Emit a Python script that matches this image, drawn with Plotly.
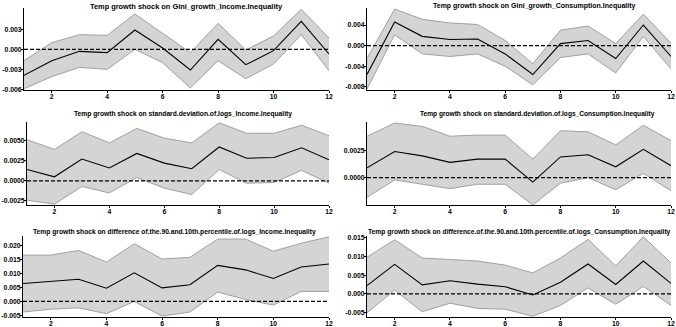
import plotly.graph_objects as go

horizon = list(range(1, 13))

titles = [
    "Temp growth shock on Gini_growth_Income.Inequality",
    "Temp growth shock on Gini_growth_Consumption.Inequality",
    "Temp growth shock on standard.deviation.of.logs_Income.Inequality",
    "Temp growth shock on standard.deviation.of.logs_Consumption.Inequality",
    "Temp growth shock on difference of.the.90.and.10th.percentile.of.logs_Income.Inequality",
    "Temp growth shock on difference.of.the.90.and.10th.percentile.of.logs_Consumption.Inequality",
]

gini_inc_mean = [-0.0039, -0.0017, -0.0003, -0.0005, 0.0029, 0.0002, -0.0031, 0.0015, -0.0023, -0.0002, 0.0042, -0.0007]
gini_inc_up = [-0.0017, 0.0010, 0.0022, 0.0021, 0.0053, 0.0024, -0.0005, 0.0039, -0.0001, 0.0020, 0.0060, 0.0017]
gini_inc_lo = [-0.0059, -0.0041, -0.0027, -0.0030, 0.0000, -0.0020, -0.0058, -0.0017, -0.0044, -0.0022, 0.0022, -0.0032]

gini_con_mean = [-0.0056, 0.0046, 0.0018, 0.0012, 0.0013, -0.0016, -0.0056, 0.0004, 0.0010, -0.0025, 0.0040, -0.0021]
gini_con_up = [-0.0025, 0.0071, 0.0051, 0.0044, 0.0041, 0.0010, -0.0035, 0.0030, 0.0038, 0.0004, 0.0061, 0.0005]
gini_con_lo = [-0.0084, 0.0021, -0.0016, -0.0021, -0.0016, -0.0040, -0.0076, -0.0023, -0.0016, -0.0053, 0.0018, -0.0045]

sd_inc_mean = [0.0014, 0.0005, 0.0027, 0.0016, 0.0034, 0.0022, 0.0015, 0.0042, 0.0028, 0.0029, 0.0041, 0.0026]
sd_inc_up = [0.0051, 0.0039, 0.0061, 0.0047, 0.0065, 0.0053, 0.0047, 0.0072, 0.0059, 0.0059, 0.0069, 0.0056]
sd_inc_lo = [-0.0024, -0.0029, -0.0007, -0.0015, 0.0004, -0.0009, -0.0017, 0.0014, -0.0003, -0.0002, 0.0013, -0.0003]

sd_con_mean = [0.0009, 0.0024, 0.0020, 0.0014, 0.0017, 0.0017, -0.0004, 0.0019, 0.0021, 0.0010, 0.0026, 0.0011]
sd_con_up = [0.0038, 0.0050, 0.0047, 0.0038, 0.0039, 0.0039, 0.0017, 0.0043, 0.0042, 0.0030, 0.0048, 0.0034]
sd_con_lo = [-0.0018, -0.0002, -0.0006, -0.0010, -0.0006, -0.0006, -0.0025, -0.0005, 0.0000, -0.0011, 0.0004, -0.0012]

p90_inc_mean = [0.0065, 0.0072, 0.0080, 0.0048, 0.0103, 0.0049, 0.0060, 0.0130, 0.0114, 0.0083, 0.0124, 0.0135]
p90_inc_up = [0.0167, 0.0167, 0.0184, 0.0142, 0.0208, 0.0153, 0.0159, 0.0225, 0.0225, 0.0181, 0.0210, 0.0233]
p90_inc_lo = [-0.0038, -0.0028, -0.0023, -0.0044, 0.0000, -0.0053, -0.0038, 0.0034, 0.0007, -0.0013, 0.0036, 0.0036]

p90_con_mean = [0.0022, 0.0079, 0.0024, 0.0035, 0.0026, 0.0019, -0.0003, 0.0031, 0.0080, 0.0025, 0.0088, 0.0028]
p90_con_up = [0.0098, 0.0145, 0.0096, 0.0092, 0.0088, 0.0077, 0.0056, 0.0096, 0.0146, 0.0075, 0.0153, 0.0083]
p90_con_lo = [-0.0051, 0.0010, -0.0048, -0.0025, -0.0039, -0.0041, -0.0060, -0.0031, 0.0016, -0.0028, 0.0020, -0.0031]

x_ticks = [2, 4, 6, 8, 10, 12]
y_ticks = [
    [-0.006, -0.003, 0.0, 0.003],
    [-0.008, -0.004, 0.0, 0.004],
    [-0.0025, 0.0, 0.0025, 0.0050],
    [0.0, 0.0025],
    [-0.005, 0.0, 0.005, 0.010, 0.015, 0.020],
    [-0.005, 0.0, 0.005, 0.010, 0.015],
]
y_tick_text = [
    ["-0.006", "-0.003", "0.000", "0.003"],
    ["-0.008", "-0.004", "0.000", "0.004"],
    ["-0.0025", "0.0000", "0.0025", "0.0050"],
    ["0.0000", "0.0025"],
    ["-0.005", "0.000", "0.005", "0.010", "0.015", "0.020"],
    ["-0.005", "0.000", "0.005", "0.010", "0.015"],
]
y_ranges = [
    [-0.0061, 0.0062],
    [-0.0086, 0.0073],
    [-0.0030, 0.0073],
    [-0.0025, 0.0051],
    [-0.0056, 0.0236],
    [-0.0062, 0.0155],
]

series = [
    (gini_inc_mean, gini_inc_up, gini_inc_lo),
    (gini_con_mean, gini_con_up, gini_con_lo),
    (sd_inc_mean, sd_inc_up, sd_inc_lo),
    (sd_con_mean, sd_con_up, sd_con_lo),
    (p90_inc_mean, p90_inc_up, p90_inc_lo),
    (p90_con_mean, p90_con_up, p90_con_lo),
]

W, H = 676, 327
x_px = [(24, 329), (367, 671), (27, 329), (367, 671), (23, 329), (367, 671)]
y_px = [(8, 90), (122, 205), (236, 317)]
y_doms = [[1 - b / H, 1 - t / H] for t, b in y_px]
title_x = [186, 534, 183, 537, 174, 519]
title_size = [7.4, 7.0, 6.7, 6.6, 6.7, 6.7]
title_y = [6, 114, 232]

fig = go.Figure()
FONT = "Liberation Sans, Arial, sans-serif"
TICKFONT = dict(family=FONT, size=6.8, color="black", weight="bold")

for i, (mean, up, lo) in enumerate(series):
    n = i + 1
    xa = "x" if n == 1 else f"x{n}"
    ya = "y" if n == 1 else f"y{n}"
    fig.add_trace(go.Scatter(x=horizon, y=up, mode="lines", line=dict(color="#a0a0a0", width=1),
                             xaxis=xa, yaxis=ya, showlegend=False, hoverinfo="skip"))
    fig.add_trace(go.Scatter(x=horizon, y=lo, mode="lines", line=dict(color="#a0a0a0", width=1),
                             fill="tonexty", fillcolor="#d4d4d4",
                             xaxis=xa, yaxis=ya, showlegend=False, hoverinfo="skip"))
    fig.add_trace(go.Scatter(x=horizon, y=mean, mode="lines", line=dict(color="black", width=1.1),
                             xaxis=xa, yaxis=ya, showlegend=False))
    fig.add_shape(type="line", xref=f"{xa} domain", yref=ya, x0=0, x1=1, y0=0, y1=0,
                  line=dict(color="black", width=1.3, dash="4px,2px"))

    row = i // 2
    axkey = "xaxis" if n == 1 else f"xaxis{n}"
    aykey = "yaxis" if n == 1 else f"yaxis{n}"
    fig.layout[axkey] = dict(
        domain=[x_px[i][0] / W, x_px[i][1] / W], anchor=ya, range=[1, 12], tickvals=x_ticks,
        ticktext=[str(v) for v in x_ticks],
        showline=True, linecolor="black", linewidth=1, ticks="outside", ticklen=2,
        tickcolor="black", showgrid=False, zeroline=False, automargin=False,
        ticklabelstandoff=-2,
        tickfont=TICKFONT,
    )
    fig.layout[aykey] = dict(
        domain=y_doms[row], anchor=xa, range=y_ranges[i], tickvals=y_ticks[i],
        ticktext=y_tick_text[i],
        showline=True, linecolor="black", linewidth=1, ticks="outside", ticklen=2,
        tickcolor="black", showgrid=False, zeroline=False, automargin=False,
        ticklabelstandoff=-2,
        tickfont=TICKFONT,
    )
    fig.add_annotation(text=titles[i], xref="paper", yref="paper",
                       x=title_x[i] / W, y=1 - title_y[row] / H, xanchor="center", yanchor="middle",
                       showarrow=False,
                       font=dict(family=FONT, size=title_size[i], color="black", weight="bold"))

fig.update_layout(width=W, height=H, margin=dict(l=0, r=0, t=0, b=0),
                  plot_bgcolor="white", paper_bgcolor="white")

fig.write_html("out.html", config={"displayModeBar": False},
               post_script="document.body.style.margin='0';document.body.style.padding='0';")
